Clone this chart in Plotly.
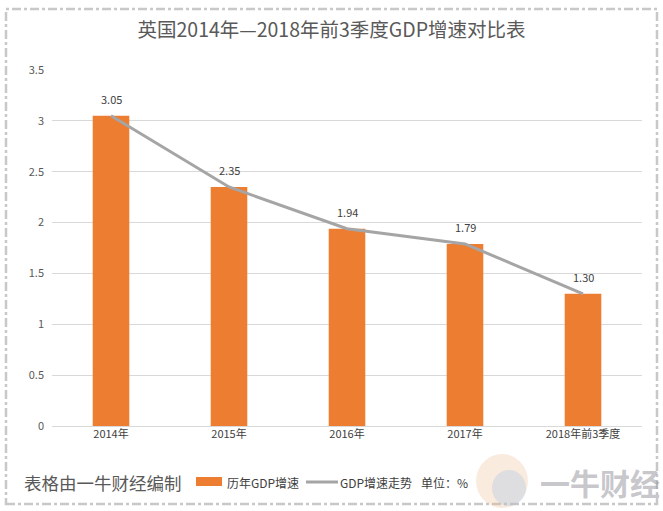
import plotly.graph_objects as go

categories = ["2014年", "2015年", "2016年", "2017年", "2018年前3季度"]
bar_values = [3.05, 2.35, 1.94, 1.79, 1.30]
line_values = [3.05, 2.35, 1.94, 1.79, 1.30]
y_ticks = [0, 0.5, 1, 1.5, 2, 2.5, 3, 3.5]
y_tick_labels = ["0", "0.5", "1", "1.5", "2", "2.5", "3", "3.5"]

FONT = "Noto Sans CJK SC"
TXT = "#595959"

L, R, T, B = 52, 21, 70, 85
W, H = 663, 511
PW, PH = W - L - R, H - T - B


def px(x):
    return (x - L) / PW


def py(y):
    return (H - B - y) / PH


fig = go.Figure()
fig.add_trace(go.Bar(
    x=categories, y=bar_values, name="历年GDP增速",
    marker=dict(color="#ED7D31", line=dict(width=0)),
    width=0.31,
))
fig.add_trace(go.Scatter(
    x=categories, y=line_values, name="GDP增速走势",
    mode="lines",
    line=dict(color="#A5A5A5", width=3),
))
for c, v in zip(categories, line_values):
    fig.add_annotation(x=c, y=v, text=f"{v:.2f}", showarrow=False,
                       yshift=17, font=dict(size=11, color="#404040", family=FONT))

fig.update_layout(
    width=W, height=H,
    paper_bgcolor="white", plot_bgcolor="white",
    margin=dict(l=L, r=R, t=T, b=B),
    font=dict(family=FONT, color=TXT, size=11),
    title=dict(text="英国2014年—2018年前3季度GDP增速对比表",
               x=0.5, xanchor="center", y=1 - 30 / H, yanchor="middle",
               font=dict(size=19.5, color=TXT, family=FONT)),
    showlegend=False,
    bargap=0.69,
)
fig.update_xaxes(showline=False, ticks="", tickfont=dict(size=11, color="#404040"))
fig.update_yaxes(range=[0, 3.5], tickvals=y_ticks, ticktext=y_tick_labels,
                 showgrid=True, gridcolor="#D9D9D9", gridwidth=1,
                 zeroline=True, zerolinecolor="#D9D9D9", zerolinewidth=1,
                 ticks="", tickfont=dict(size=11, color=TXT), ticklabelstandoff=7)

# dashed border around the whole picture
fig.add_shape(type="rect", xref="paper", yref="paper",
              x0=px(6), x1=px(657), y0=py(504), y1=py(9),
              line=dict(color="#C8C8C8", width=2.5, dash="dashdot"), layer="below")

# watermark logo
fig.add_shape(type="circle", xref="paper", yref="paper",
              x0=px(476), x1=px(528), y0=py(508), y1=py(454),
              fillcolor="rgba(240,190,150,0.30)", line=dict(width=0), layer="below")
fig.add_shape(type="circle", xref="paper", yref="paper",
              x0=px(492), x1=px(526), y0=py(506), y1=py(470),
              fillcolor="rgba(160,190,230,0.30)", line=dict(width=0), layer="below")
fig.add_annotation(xref="paper", yref="paper", x=px(662), y=py(482),
                   xanchor="right", yanchor="middle",
                   text="<b>一牛财经</b>", showarrow=False,
                   font=dict(size=30, color="rgba(150,150,160,0.55)", family=FONT))

# footer text
fig.add_annotation(xref="paper", yref="paper", x=px(22), y=py(482),
                   xanchor="left", yanchor="middle",
                   text="表格由一牛财经编制", showarrow=False,
                   font=dict(size=17.5, color=TXT, family=FONT))

# manual legend
fig.add_shape(type="rect", xref="paper", yref="paper",
              x0=px(196), x1=px(222), y0=py(486), y1=py(477),
              fillcolor="#ED7D31", line=dict(width=0))
fig.add_annotation(xref="paper", yref="paper", x=px(225), y=py(482),
                   xanchor="left", yanchor="middle",
                   text="历年GDP增速", showarrow=False,
                   font=dict(size=12, color="#404040", family=FONT))
fig.add_shape(type="line", xref="paper", yref="paper",
              x0=px(306), x1=px(338), y0=py(482), y1=py(482),
              line=dict(color="#A5A5A5", width=3))
fig.add_annotation(xref="paper", yref="paper", x=px(338), y=py(482),
                   xanchor="left", yanchor="middle",
                   text="GDP增速走势", showarrow=False,
                   font=dict(size=12, color="#404040", family=FONT))
fig.add_annotation(xref="paper", yref="paper", x=px(419), y=py(482),
                   xanchor="left", yanchor="middle",
                   text="单位：%", showarrow=False,
                   font=dict(size=12, color="#404040", family=FONT))

fig.write_html("out.html", config={"displayModeBar": False},
               post_script="document.body.style.margin='0';")
